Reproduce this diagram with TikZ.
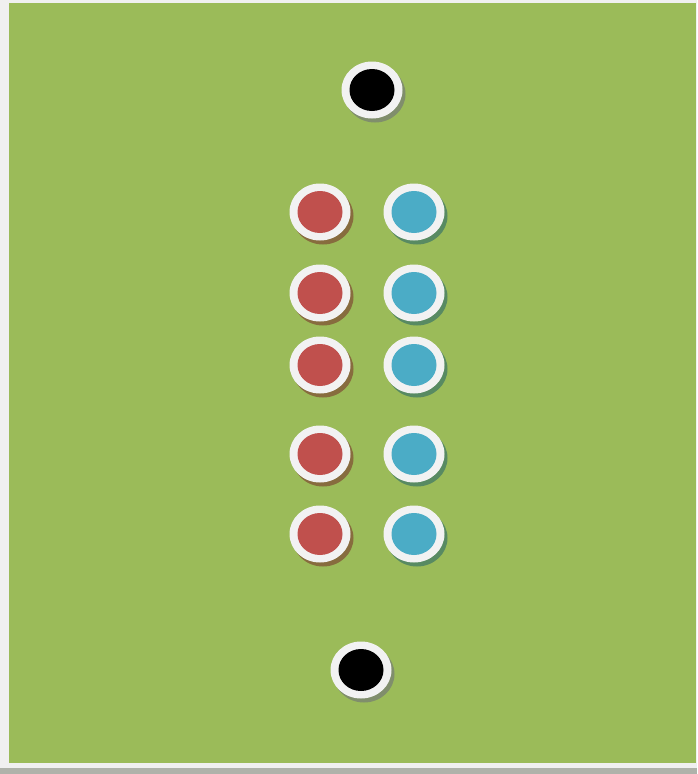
\documentclass[tikz,border=0pt]{standalone}
\usepackage{tikz}
\usetikzlibrary{shapes.geometric, shadows}
\definecolor{fieldgreen}{RGB}{155,187,89}
\definecolor{pinred}{RGB}{192,80,77}
\definecolor{pinblue}{RGB}{75,172,198}
\definecolor{ringwhite}{RGB}{242,242,242}
\definecolor{framegray}{RGB}{240,240,240}
\definecolor{edgegray}{RGB}{175,178,170}
\definecolor{redshade}{RGB}{135,108,62}
\definecolor{blueshade}{RGB}{88,138,98}
\definecolor{blackshade}{RGB}{128,142,108}
\tikzset{
  pin/.style={
    ellipse, minimum width=61pt, minimum height=57pt, inner sep=0pt,
    fill=ringwhite,
    path picture={\fill[#1] (path picture bounding box.center)
      ellipse (22.5pt and 21pt);}
  },
  redpin/.style={pin=pinred,
    drop shadow={shadow xshift=3pt, shadow yshift=-4pt, fill=redshade, opacity=1}},
  bluepin/.style={pin=pinblue,
    drop shadow={shadow xshift=3pt, shadow yshift=-4pt, fill=blueshade, opacity=1}},
  blackpin/.style={pin=black,
    drop shadow={shadow xshift=3pt, shadow yshift=-4pt, fill=blackshade, opacity=1}}
}
\begin{document}
\begin{tikzpicture}[x=1pt, y=-1pt]
  % Frame and field
  \fill[framegray] (0,0) rectangle (697,774);
  \fill[edgegray] (0,768) rectangle (697,774);
  \fill[fieldgreen] (9,3) rectangle (696,763);
  \useasboundingbox (0,0) rectangle (697,774);

  % Black pins
  \node[blackpin] (top_pin) at (372,90) {};
  \node[blackpin] (bottom_pin) at (361,670) {};

  % Red column
  \node[redpin] (red_a) at (320,212) {};
  \node[redpin] (red_b) at (320,293) {};
  \node[redpin] (red_c) at (320,365) {};
  \node[redpin] (red_d) at (320,454) {};
  \node[redpin] (red_e) at (320,534) {};

  % Blue column
  \node[bluepin] (blue_a) at (414,212) {};
  \node[bluepin] (blue_b) at (414,293) {};
  \node[bluepin] (blue_c) at (414,365) {};
  \node[bluepin] (blue_d) at (414,454) {};
  \node[bluepin] (blue_e) at (414,534) {};
\end{tikzpicture}
\end{document}
